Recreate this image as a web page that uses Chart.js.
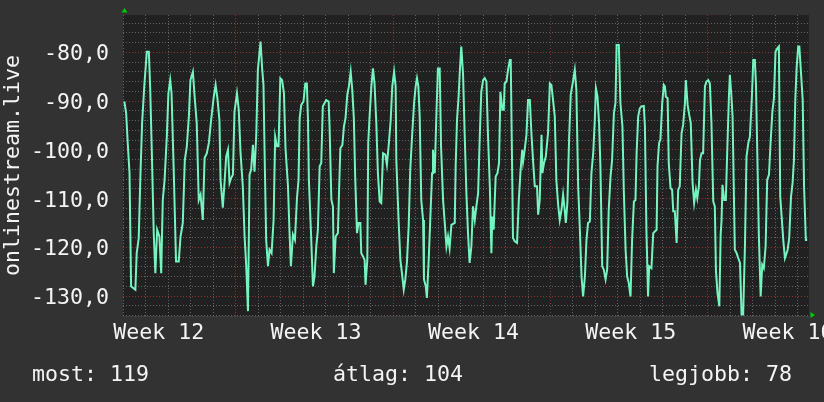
<!DOCTYPE html>
<html lang="hu">
<head>
<meta charset="UTF-8">
<title>onlinestream.live</title>
<style>
  html, body { margin: 0; padding: 0; background: #323232; }
  canvas { display: block; }
</style>
</head>
<body>
<canvas id="chart" width="824" height="402"></canvas>
<script src="https://cdn.jsdelivr.net/npm/chart.js"></script>
<script>
// time in days since the start of Week 12
const sampleDays = [
  2.04, 2.12, 2.19, 2.27, 2.34, 2.53, 2.59, 2.68, 2.76, 2.83,
  2.93, 3.04, 3.13, 3.19, 3.26, 3.35, 3.42, 3.50, 3.60, 3.68,
  3.75, 3.83, 3.93, 4.00, 4.08, 4.14, 4.24, 4.34, 4.46, 4.54,
  4.64, 4.73, 4.82, 4.91, 4.98, 5.09, 5.16, 5.26, 5.35, 5.43,
  5.53, 5.61, 5.71, 5.80, 5.90, 6.01, 6.10, 6.18, 6.27, 6.32,
  6.42, 6.50, 6.57, 6.65, 6.72, 6.79, 6.87, 6.94, 7.05, 7.13,
  7.21, 7.31, 7.39, 7.46, 7.54, 7.61, 7.68, 7.76, 7.83, 7.91,
  7.98, 8.10, 8.17, 8.23, 8.28, 8.35, 8.43, 8.50, 8.59, 8.68,
  8.75, 8.83, 8.90, 8.98, 9.06, 9.14, 9.21, 9.32, 9.39, 9.45,
  9.54, 9.63, 9.72, 9.79, 9.84,
  9.91, 10.01, 10.09, 10.16, 10.21, 10.25, 10.35, 10.43, 10.50, 10.58,
  10.65, 10.73, 10.80, 10.87, 10.95, 11.02, 11.13, 11.17, 11.25, 11.32,
  11.36, 11.44, 11.54, 11.59, 11.65, 11.74, 11.81, 11.88, 11.96, 12.03,
  12.11, 12.18, 12.25, 12.31, 12.39, 12.46, 12.54, 12.58, 12.66, 12.73,
  12.77, 12.85, 12.89, 12.95, 13.03, 13.10, 13.17, 13.25, 13.32, 13.40,
  13.47, 13.55, 13.65, 13.72, 13.81, 13.89, 13.96, 14.04, 14.11, 14.14,
  14.24, 14.32, 14.39, 14.47, 14.54, 14.61, 14.69, 14.76, 14.84, 14.93,
  15.00, 15.06, 15.12, 15.18, 15.25, 15.33, 15.37, 15.45, 15.50, 15.58,
  15.65, 15.73, 15.77, 15.85, 15.92, 15.99, 16.07, 16.13, 16.22, 16.29,
  16.37, 16.44, 16.51, 16.59, 16.74, 16.78, 16.84, 16.91, 16.96, 17.03,
  17.11, 17.18, 17.26, 17.33, 17.40, 17.48, 17.55, 17.63, 17.70, 17.78,
  17.85, 17.92, 18.00, 18.07, 18.15, 18.22, 18.30, 18.37, 18.41, 18.47,
  18.56, 18.64, 18.71, 18.77, 18.86, 18.92, 18.96, 19.04, 19.11, 19.19,
  19.23, 19.28, 19.33, 19.41, 19.51, 19.59, 19.66, 19.74, 19.78, 19.85,
  19.93, 20.00, 20.08, 20.15, 20.23, 20.30, 20.40, 20.45, 20.52, 20.60,
  20.64, 20.71, 20.79, 20.89, 20.97, 21.04, 21.12, 21.19, 21.26, 21.34,
  21.41, 21.49, 21.56, 21.63, 21.68, 21.75, 21.83, 21.90, 22.01, 22.08,
  22.15, 22.23, 22.30, 22.38, 22.45, 22.53, 22.60, 22.67, 22.75, 22.82,
  22.90, 22.97, 23.02, 23.09, 23.16, 23.22, 23.30, 23.37, 23.45, 23.52,
  23.59, 23.67, 23.74, 23.82, 23.89, 23.94, 24.04, 24.11, 24.20, 24.26,
  24.34, 24.41, 24.48, 24.56, 24.63, 24.71, 24.78, 24.83, 24.90, 24.97,
  25.05, 25.15, 25.20, 25.27, 25.34, 25.39, 25.49, 25.57, 25.72, 25.76,
  25.83, 25.89, 25.97, 26.04, 26.09, 26.13, 26.21, 26.26, 26.34, 26.41,
  26.46, 26.53, 26.61, 26.68, 26.75, 26.83, 26.90, 26.98, 27.02, 27.10,
  27.17, 27.24, 27.32, 27.39, 27.47, 27.53, 27.60, 27.65, 27.72, 27.79,
  27.87, 27.94, 28.02, 28.09, 28.16, 28.24, 28.31, 28.36, 28.43, 28.51,
  28.57, 28.61, 28.65, 28.73, 28.80, 28.86, 28.94, 28.98, 29.05, 29.10,
  29.20, 29.28, 29.35, 29.43, 29.50, 29.57, 29.65, 29.72, 29.80, 29.87,
  29.96, 30.02, 30.09, 30.14, 30.20, 30.27, 30.35, 30.42, 30.49, 30.57,
  30.64, 30.72, 30.79, 30.87, 30.94, 31.01, 31.09, 31.16, 31.22, 31.36,
  31.43, 31.55, 31.62, 31.70, 31.77, 31.83, 31.89, 31.95, 32.02, 32.07,
  32.13, 32.22, 32.28, 32.36, 32.42
];
const sampleValues = [
  -90.1, -92.5, -98.6, -104.8, -128.0, -128.7, -121.2, -118.1, -104.5, -94.5,
  -86.7, -79.9, -79.9, -87.4, -100.0, -117.4, -125.3, -116.4, -117.8, -125.3,
  -110.3, -106.2, -97.3, -88.4, -85.7, -88.4, -104.8, -122.9, -122.9, -117.8,
  -115.0, -102.1, -99.3, -93.2, -85.7, -84.0, -88.7, -94.5, -110.3, -109.2,
  -114.4, -101.7, -100.7, -98.6, -93.9, -89.4, -86.7, -89.4, -93.9, -106.2,
  -111.9, -106.5, -101.4, -100.0, -106.8, -105.8, -105.1, -92.2, -88.4, -91.8,
  -100.7, -107.5, -117.8, -123.6, -133.1, -105.1, -104.1, -99.0, -104.5, -96.9,
  -83.6, -77.8, -83.3, -86.7, -100.7, -118.5, -123.9, -120.5, -121.2, -114.4,
  -97.3, -99.3, -99.3, -85.3, -85.7, -88.4, -99.7, -107.5, -117.1, -123.9,
  -117.4, -118.5, -109.9, -106.2, -93.5,
  -90.8, -90.1, -86.4, -86.4, -93.9, -106.2, -117.8, -128.0, -126.0, -119.8,
  -116.4, -103.4, -102.7, -91.1, -90.4, -89.8, -90.1, -95.2, -110.3, -111.6,
  -125.3, -117.8, -117.1, -108.9, -99.7, -99.0, -95.2, -93.5, -88.7, -87.0,
  -84.0, -87.7, -93.5, -105.5, -117.1, -115.0, -115.0, -121.2, -121.9, -122.6,
  -127.7, -122.6, -98.6, -93.2, -87.0, -83.3, -86.4, -94.5, -104.8, -110.6,
  -110.9, -100.7, -101.0, -103.1, -98.6, -93.9, -87.0, -84.0, -87.0, -102.1,
  -114.4, -122.6, -125.3, -128.7, -126.6, -123.2, -115.7, -104.1, -97.3, -90.4,
  -87.0, -85.3, -87.0, -93.2, -110.3, -114.4, -126.6, -128.0, -130.4, -122.6,
  -114.4, -104.8, -100.0, -104.8, -93.2, -83.3, -83.3, -99.3, -110.3, -114.7,
  -119.8, -117.8, -120.2, -115.4, -115.0, -103.4, -93.9, -89.1, -84.3, -78.8,
  -84.6, -96.6, -109.2, -117.1, -123.2, -119.8, -111.6, -114.4, -111.6, -108.9,
  -97.6, -88.1, -85.7, -85.3, -86.0, -97.3, -107.5, -121.2, -113.7, -116.4,
  -105.5, -104.8, -102.7, -88.1, -91.8, -91.8, -86.4, -86.0, -83.6, -81.6,
  -81.6, -99.3, -118.1, -118.8, -119.1, -110.3, -104.8, -100.0, -102.4, -100.0,
  -96.9, -89.8, -89.8, -96.6, -102.7, -107.5, -107.5, -113.3, -110.3, -96.9,
  -104.8, -102.7, -101.4, -96.6, -86.4, -86.7, -90.1, -93.2, -106.2, -111.3,
  -114.4, -112.3, -109.2, -112.3, -115.0, -110.9, -97.3, -88.7, -85.7, -83.6,
  -87.7, -107.5, -115.7, -126.0, -130.1, -126.0, -118.5, -115.0, -114.7, -104.8,
  -100.7, -93.9, -87.4, -89.1, -94.5, -103.4, -123.9, -124.6, -126.6, -124.6,
  -112.3, -105.5, -102.1, -92.5, -90.4, -78.5, -78.5, -90.4, -95.2, -108.2,
  -120.5, -126.0, -127.3, -130.1, -118.5, -110.6, -110.3, -100.7, -93.2, -91.5,
  -91.1, -91.0, -95.2, -117.1, -130.1, -123.9, -124.3, -117.1, -116.4, -103.4,
  -98.6, -97.9, -90.4, -86.7, -87.0, -89.1, -89.4, -102.7, -107.9, -108.2,
  -112.6, -112.6, -119.1, -108.2, -107.5, -96.6, -94.9, -90.4, -85.7, -90.8,
  -92.8, -94.5, -106.8, -110.9, -108.2, -109.9, -107.5, -102.1, -100.7, -100.7,
  -87.0, -86.0, -85.7, -86.4, -94.5, -110.6, -111.6, -124.9, -129.4, -132.1,
  -117.4, -114.4, -107.2, -110.3, -110.3, -100.7, -88.7, -84.6, -89.1, -93.2,
  -120.5, -121.2, -122.2, -123.2, -133.8, -133.8, -119.8, -101.4, -98.6, -97.3,
  -89.1, -81.6, -81.6, -86.4, -100.7, -117.8, -130.1, -123.6, -124.3, -119.8,
  -106.2, -105.1, -98.6, -92.2, -89.4, -79.9, -79.2, -78.8, -109.6, -118.8,
  -122.2, -120.5, -118.1, -109.6, -106.8, -102.1, -89.8, -83.2, -78.8, -78.8,
  -83.2, -89.8, -107.5, -118.5, -118.5
];

// x axis: week labels sit in the middle of each week, majors on week starts
const weekLabels = ['Week 12', 'Week 13', 'Week 14', 'Week 15', 'Week 16'];
const weekLabelDays = [3.57, 10.57, 17.57, 24.57, 31.57];
const xMin = 1.98, xMax = 32.5;

// y axis
const yLabelValues = [-130, -120, -110, -100, -90, -80];
const yMin = -134.1, yMax = -72.35, yMinorStep = 2;

const statTexts = ['most: 119', 'átlag: 104', 'legjobb: 78'];

const FONT = '"DejaVu Sans Mono", "Liberation Mono", monospace';
const FONT_SIZE = 21.6;
const TEXT = '#f4f4f4';
const MINOR = 'rgba(120,120,120,0.75)';
const MAJOR = 'rgba(150,55,55,0.9)';

Chart.defaults.font.family = FONT;
Chart.defaults.font.size = FONT_SIZE;
Chart.defaults.color = TEXT;

const bgPlugin = {
  id: 'bg',
  beforeDraw(chart) {
    const { ctx, chartArea: a } = chart;
    ctx.save();
    ctx.fillStyle = '#323232';
    ctx.fillRect(0, 0, chart.width, chart.height);
    ctx.fillStyle = '#212121';
    ctx.fillRect(a.left, a.top, a.right - a.left, a.bottom - a.top);
    ctx.restore();
  },
  afterDraw(chart) {
    const { ctx, chartArea: a } = chart;
    ctx.save();
    // axis line and rrd style arrows
    ctx.strokeStyle = '#3d3d3d';
    ctx.lineWidth = 1;
    ctx.beginPath();
    ctx.moveTo(a.left, a.bottom + 0.5);
    ctx.lineTo(a.right, a.bottom + 0.5);
    ctx.stroke();
    ctx.fillStyle = '#00cc00';
    ctx.beginPath();
    ctx.moveTo(a.left + 1.5, a.top - 7);
    ctx.lineTo(a.left - 1.5, a.top - 2.5);
    ctx.lineTo(a.left + 4.5, a.top - 2.5);
    ctx.fill();
    ctx.beginPath();
    ctx.moveTo(a.right + 6, a.bottom - 1);
    ctx.lineTo(a.right + 1.5, a.bottom - 4);
    ctx.lineTo(a.right + 1.5, a.bottom + 2);
    ctx.fill();
    // stats line
    ctx.font = FONT_SIZE + 'px ' + FONT;
    ctx.fillStyle = TEXT;
    ctx.textBaseline = 'alphabetic';
    ctx.textAlign = 'left';
    ctx.fillText(statTexts[0], 32, 381);
    ctx.fillText(statTexts[1], 333, 381);
    ctx.textAlign = 'right';
    ctx.fillText(statTexts[2], 792, 381);
    ctx.restore();
  }
};

const xTicks = [];
for (let d = Math.ceil(xMin); d <= xMax; d++) xTicks.push(d);
weekLabelDays.forEach(d => xTicks.push(d));
xTicks.sort((a, b) => a - b);

const yTicks = [];
for (let v = -134; v <= yMax; v += yMinorStep) yTicks.push(v);

new Chart(document.getElementById('chart'), {
  type: 'line',
  data: {
    datasets: [{
      data: sampleDays.map((d, i) => ({ x: d, y: sampleValues[i] })),
      borderColor: '#76f4c0',
      borderWidth: 2,
      pointRadius: 0,
      tension: 0,
      fill: false
    }]
  },
  options: {
    responsive: false,
    animation: false,
    layout: { padding: { top: 15, right: 15, left: 0, bottom: 0 } },
    plugins: { legend: { display: false }, tooltip: { enabled: false } },
    scales: {
      x: {
        type: 'linear',
        min: xMin,
        max: xMax,
        afterBuildTicks: s => { s.ticks = xTicks.map(v => ({ value: v })); },
        afterFit: s => { s.height = 86; s.paddingLeft = 0; s.paddingRight = 0; },
        grid: {
          drawTicks: false,
          lineWidth: 1,
          color: c => {
            const v = c.tick.value;
            if (!Number.isInteger(v)) return 'rgba(0,0,0,0)';
            return v % 7 === 0 ? MAJOR : MINOR;
          }
        },
        border: { display: false, dash: [1, 2] },
        ticks: {
          autoSkip: false,
          maxRotation: 0,
          minRotation: 0,
          padding: 4,
          color: TEXT,
          callback: v => {
            const i = weekLabelDays.indexOf(v);
            return i >= 0 ? weekLabels[i] : '';
          }
        }
      },
      y: {
        min: yMin,
        max: yMax,
        afterBuildTicks: s => { s.ticks = yTicks.map(v => ({ value: v })); },
        afterFit: s => { s.width = 123; s.paddingTop = 0; s.paddingBottom = 0; },
        grid: {
          drawTicks: false,
          lineWidth: 1,
          color: c => yLabelValues.includes(c.tick.value) ? MAJOR : MINOR
        },
        border: { display: false, dash: [1, 2] },
        ticks: {
          autoSkip: false,
          padding: 14,
          labelOffset: 2.5,
          color: TEXT,
          callback: v => yLabelValues.includes(v) ? v.toFixed(1).replace('.', ',') : ''
        },
        title: {
          display: true,
          text: 'onlinestream.live',
          color: TEXT,
          padding: { top: 0, bottom: 0 }
        }
      }
    }
  },
  plugins: [bgPlugin]
});
</script>
</body>
</html>
